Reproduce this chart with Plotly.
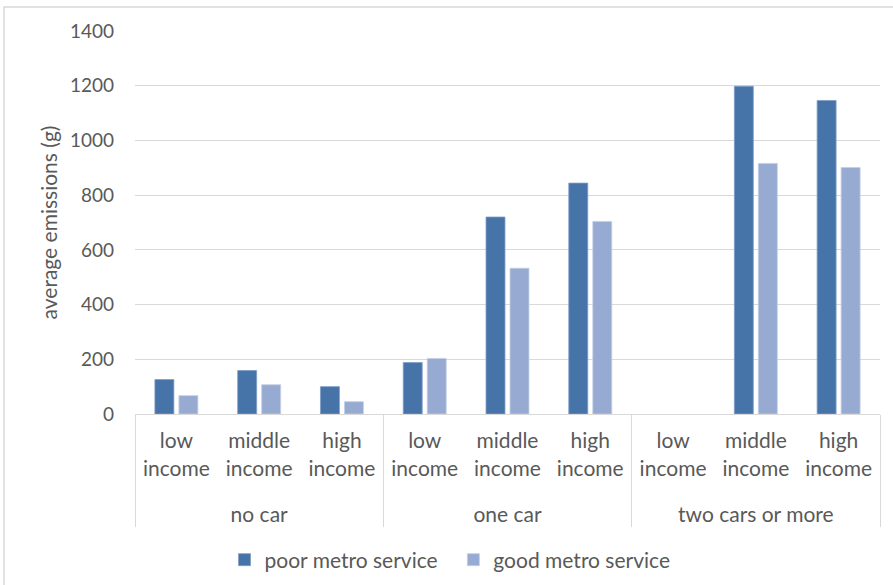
import plotly.graph_objects as go

# Car ownership groups and income bands (two-level category axis)
car_groups = ["no car", "one car", "two cars or more"]
income_bands = ["low<br>income<br>\u00a0", "middle<br>income<br>\u00a0", "high<br>income<br>\u00a0"]

# Average emissions (g) per household type
poor_metro = [126, 159, 100, 188, 720, 844, None, 1198, 1146]
good_metro = [67, 107, 45, 203, 533, 704, None, 916, 901]

x_outer = [g for g in car_groups for _ in income_bands]
x_inner = [b for _ in car_groups for b in income_bands]

DARK = "#4674A9"
LIGHT = "#96AAD2"
TEXT = "#595959"
GRID = "#D9D9D9"
FONT = "Lato, 'Liberation Sans', sans-serif"

fig = go.Figure()
fig.add_trace(go.Bar(
    name="poor metro service\u00a0\u00a0", x=[x_outer, x_inner], y=poor_metro,
    marker=dict(color=DARK, line=dict(color="#7f9cc6", width=0.8)),
))
fig.add_trace(go.Bar(
    name="good metro service", x=[x_outer, x_inner], y=good_metro,
    marker=dict(color=LIGHT, line=dict(color="#c3cfe6", width=0.8)),
))

L, R, T, B = 135, 13, 31, 171
W, H = 893, 585
pw = W - L - R
ph = H - T - B

fig.update_layout(
    width=W, height=H,
    margin=dict(l=L, r=R, t=T, b=B, autoexpand=False),
    paper_bgcolor="white", plot_bgcolor="white",
    font=dict(family=FONT, color=TEXT, size=19),
    barmode="group", bargap=0.42, bargroupgap=0.21,
    showlegend=True,
    legend=dict(
        orientation="h", xref="container", yref="container",
        x=450 / W, xanchor="center",
        y=1 - 560 / H, yanchor="middle",
        font=dict(size=21, color=TEXT),
        itemwidth=30, traceorder="normal",
    ),
)

fig.update_yaxes(
    range=[0, 1400], dtick=200, tickformat="d", automargin=False,
    showgrid=True, gridcolor=GRID, gridwidth=1.3,
    zeroline=False, showline=False,
    ticks="", ticklabelstandoff=20,
    tickfont=dict(size=19, color=TEXT),
    title=dict(text="average emissions (g)", font=dict(size=21, color=TEXT), standoff=6),
)

fig.update_xaxes(
    type="multicategory", automargin=False,
    showline=True, linecolor=GRID, linewidth=1.3,
    showdividers=True, dividercolor=GRID, dividerwidth=1.3,
    ticks="", ticklabelstandoff=8, tickfont=dict(size=21, color=TEXT),
    showgrid=False,
)

# Outer chart frame (left and top edges fall inside the canvas)
fig.add_shape(
    type="rect", xref="paper", yref="paper",
    x0=(4 - L) / pw, x1=(900 - L) / pw,
    y0=-(600 - T - ph) / ph,
    y1=1 + (T - 7) / ph,
    line=dict(color=GRID, width=1.5), fillcolor="rgba(0,0,0,0)", layer="below",
)

fig.write_html("out.html")
